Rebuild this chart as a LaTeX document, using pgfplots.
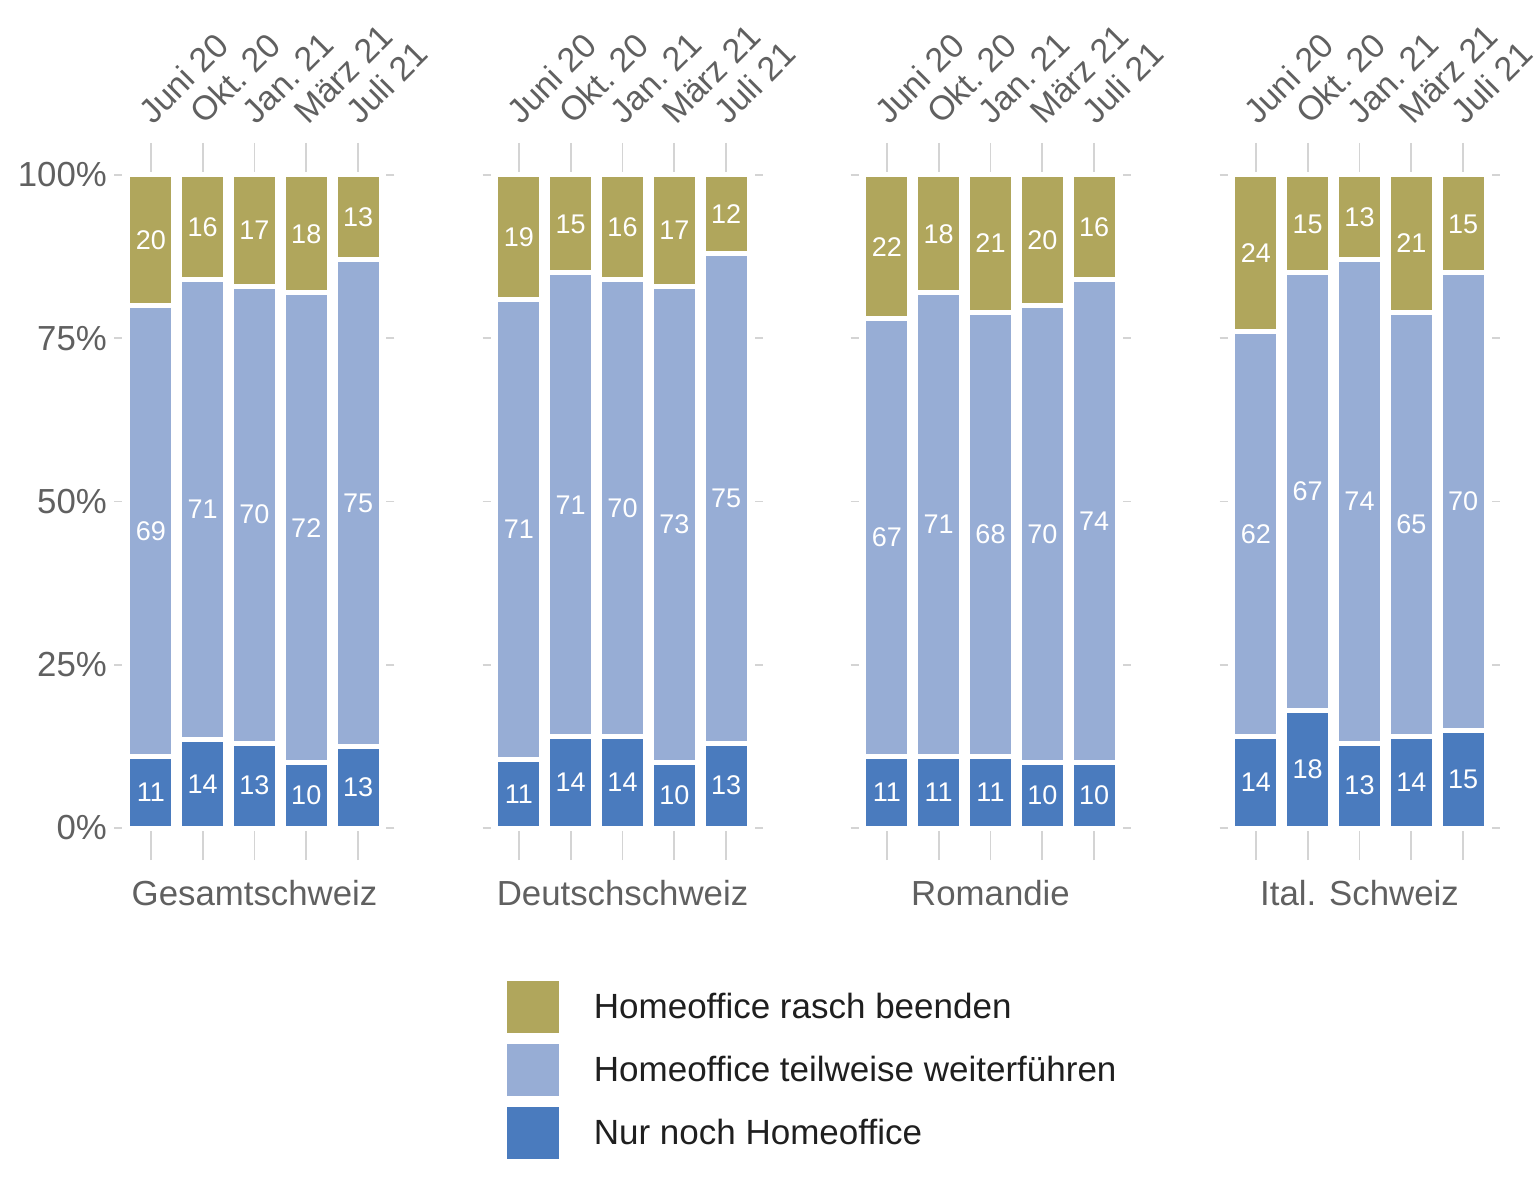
\documentclass[border=0pt]{standalone}
\usepackage{pgfplots}
\usepackage{pgfplotstable}
\usepackage{fontspec}
\setmainfont{Liberation Sans}
\pgfplotsset{compat=1.18}

\definecolor{cgold}{HTML}{B0A65C}
\definecolor{clight}{HTML}{97ADD5}
\definecolor{cdark}{HTML}{4A7BBE}
\definecolor{ctxt}{HTML}{606060}
\definecolor{ctick}{HTML}{D4D4D4}

% bar heights (nur / teil / rasch) and printed labels
\pgfplotstableread{
x  nur   teil  rasch  lnur lteil lrasch
1  11    69    20     11   69    20
2  13.5  70.5  16     14   71    16
3  13    70    17     13   70    17
4  10    72    18     10   72    18
5  12.5  74.5  13     13   75    13
}\gesamt
\pgfplotstableread{
x  nur   teil  rasch  lnur lteil lrasch
1  10.5  70.5  19     11   71    19
2  14    71    15     14   71    15
3  14    70    16     14   70    16
4  10    73    17     10   73    17
5  13    75    12     13   75    12
}\deutsch
\pgfplotstableread{
x  nur   teil  rasch  lnur lteil lrasch
1  11    67    22     11   67    22
2  11    71    18     11   71    18
3  11    68    21     11   68    21
4  10    70    20     10   70    20
5  10    74    16     10   74    16
}\romandie
\pgfplotstableread{
x  nur   teil  rasch  lnur lteil lrasch
1  14    62    24     14   62    24
2  18    67    15     18   67    15
3  13    74    13     13   74    13
4  14    65    21     14   65    21
5  15    70    15     15   70    15
}\tessin

\pgfplotsset{
  panel/.style={
    scale only axis, width=132pt, height=326.5pt,
    xmin=0.45, xmax=5.55, ymin=0, ymax=100,
    ybar stacked, bar width=23pt,
    axis line style={draw=none},
    xtick={1,2,3,4,5},
    xticklabels={Juni 20,Okt.\ 20,Jan.\ 21,März 21,Juli 21},
    xtick pos=both, xticklabel pos=upper,
    ytick={0,25,50,75,100},
    ytick pos=both, yticklabel pos=left,
    tick align=outside,
    xtick style={ctick, line width=0.8pt, /pgfplots/major tick length=16pt},
    ytick style={ctick, line width=0.8pt, /pgfplots/major tick length=4pt},
    xticklabel style={xshift=1.25pt, yshift=15.25pt, rotate=45, anchor=south west,
      font=\fontsize{17}{19}\selectfont, text=ctxt},
    yticklabel style={font=\fontsize{17.4}{20}\selectfont, text=ctxt},
    xlabel style={at={(axis description cs:0.5,0)}, anchor=base, yshift=-38.5pt,
      font=\fontsize{17.4}{20}\selectfont, text=ctxt},
    every axis plot/.append style={draw=white, line width=2.5pt},
    point meta=explicit symbolic,
    nodes near coords,
    every node near coord/.append style={text=white, anchor=center,
      font=\fontsize{13.5}{15}\selectfont},
    clip=false,
  },
  sq/.style={legend image code/.code={
    \fill[fill=#1] (0pt,-14.25pt) rectangle (28.5pt,14.25pt);}},
}

\newcommand\stackbars[1]{%
  \addplot[fill=cdark, sq=cdark] table[x=x, y=nur, meta=lnur] {#1};
  \addplot[fill=clight, sq=clight] table[x=x, y=teil, meta=lteil] {#1};
  \addplot[fill=cgold, sq=cgold] table[x=x, y=rasch, meta=lrasch] {#1};
}

\begin{document}
\begin{tikzpicture}
\useasboundingbox (-61.25pt,-180.5pt) rectangle (706.75pt,414pt);

\begin{axis}[panel, at={(0pt,0pt)}, anchor=south west,
    yticklabels={0\%,25\%,50\%,75\%,100\%},
    xlabel={Gesamtschweiz},
    reverse legend,
    legend style={at={(axis description cs:1.4129,-0.2205)}, anchor=north west,
      draw=none, fill=none, font=\fontsize{17.5}{20}\selectfont, text=black!88,
      row sep=0.5pt, column sep=15pt, nodes={inner sep=0pt}},
    legend cell align=left]
  \stackbars{\gesamt}
  \legend{Nur noch Homeoffice, Homeoffice teilweise weiterführen, Homeoffice rasch beenden}
\end{axis}

\begin{axis}[panel, at={(184pt,0pt)}, anchor=south west,
    yticklabels={}, xlabel={Deutschschweiz}]
  \stackbars{\deutsch}
\end{axis}

\begin{axis}[panel, at={(368pt,0pt)}, anchor=south west,
    yticklabels={}, xlabel={Romandie}]
  \stackbars{\romandie}
\end{axis}

\begin{axis}[panel, at={(552.5pt,0pt)}, anchor=south west,
    yticklabels={}, xlabel={Ital. Schweiz}]
  \stackbars{\tessin}
\end{axis}
\end{tikzpicture}
\end{document}
